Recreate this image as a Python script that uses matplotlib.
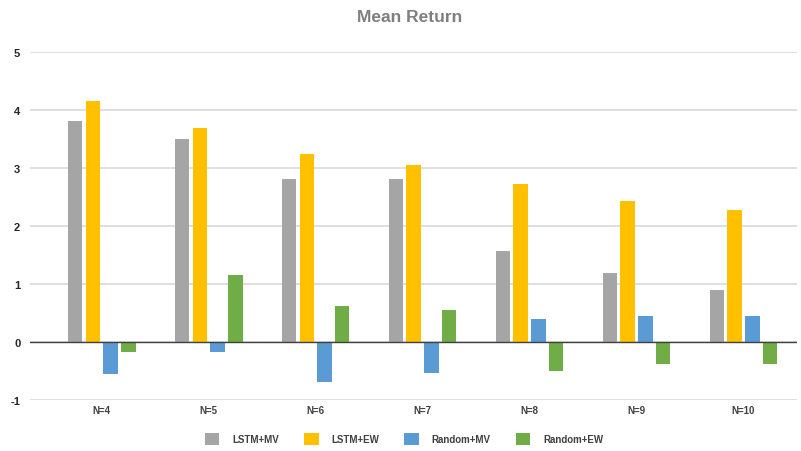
import numpy as np
import matplotlib
matplotlib.use("Agg")
import matplotlib.pyplot as plt

categories = ["N=4", "N=5", "N=6", "N=7", "N=8", "N=9", "N=10"]
series_names = ["LSTM+MV", "LSTM+EW", "Random+MV", "Random+EW"]
lstm_mv = [3.81, 3.50, 2.81, 2.81, 1.56, 1.19, 0.90]
lstm_ew = [4.16, 3.69, 3.24, 3.05, 2.72, 2.43, 2.27]
random_mv = [-0.56, -0.18, -0.69, -0.54, 0.40, 0.45, 0.45]
random_ew = [-0.18, 1.16, 0.62, 0.55, -0.50, -0.39, -0.39]
y_ticks = [-1, 0, 1, 2, 3, 4, 5]

colors = ["#A5A5A5", "#FFC000", "#5B9BD5", "#70AD47"]
plt.rcParams["font.family"] = ["Liberation Sans", "DejaVu Sans"]

fig = plt.figure(figsize=(8.01, 4.52), dpi=100)
ax = fig.add_axes([30 / 801, 1 - 400.7 / 452, 767 / 801, 347.4 / 452])

x = np.arange(len(categories))
step = 0.166
width = 0.135
for i, (vals, name, c) in enumerate(zip([lstm_mv, lstm_ew, random_mv, random_ew], series_names, colors)):
    ax.bar(x + (i - 1.5) * step, vals, width=width, color=c, label=name, zorder=3)

ax.set_xlim(-0.67, 6.5)
ax.set_ylim(-1, 5)
ax.set_yticks(y_ticks)
ax.set_yticklabels([str(t) for t in y_ticks], fontsize=8, fontweight="bold", color="#262626")
ax.set_xticks(x)
ax.set_xticklabels(categories, fontsize=7, fontweight="bold", color="#404040")
ax.tick_params(axis="both", length=0)
ax.tick_params(axis="y", pad=7)
ax.tick_params(axis="x", pad=4)

ax.grid(axis="y", color="#D9D9D9", linewidth=1.2, zorder=0)
ax.axhline(0, color="#404040", linewidth=1.0, zorder=4)
for s in ax.spines.values():
    s.set_visible(False)

fig.text(410 / 801, 1 - 18 / 452, "Mean Return", ha="center", va="center",
         fontsize=12.5, fontweight="bold", color="#7F7F7F")

leg = fig.legend(loc="center", bbox_to_anchor=(404 / 801, 1 - 440 / 452), ncol=4, frameon=False,
                 fontsize=7, handlelength=1.5, handleheight=1.5, columnspacing=2.6,
                 handletextpad=1.3)
for t in leg.get_texts():
    t.set_color("#404040")
    t.set_fontweight("bold")

fig.savefig("out.png", dpi=100)
